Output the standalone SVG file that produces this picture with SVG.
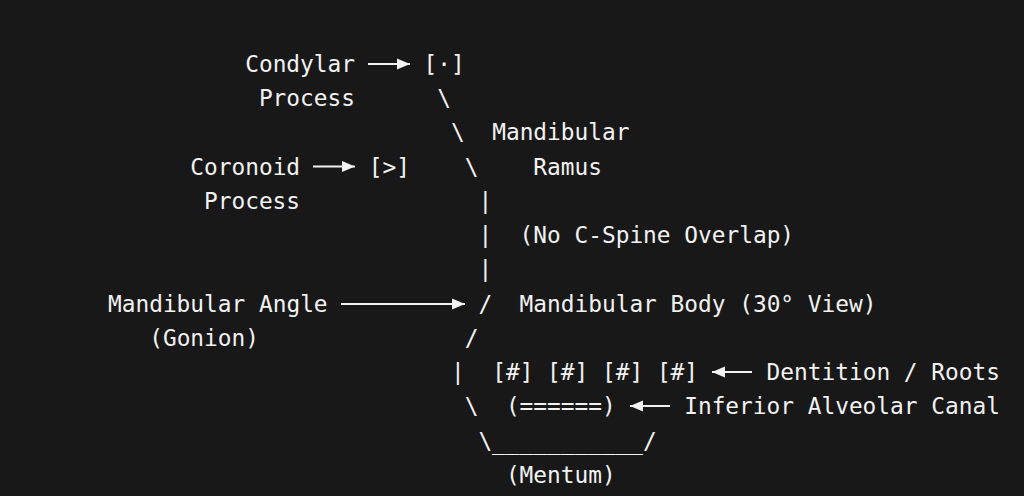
<svg xmlns="http://www.w3.org/2000/svg" width="1024" height="496" viewBox="0 0 1024 496">
<defs>
<style>
text{font-family:"DejaVu Sans Mono","Liberation Mono",monospace;font-size:22.8px;fill:#f2f2f2;white-space:pre}
.c{stroke:#f2f2f2;stroke-width:2;fill:none}
</style>
<marker id="ah" markerUnits="userSpaceOnUse" markerWidth="14" markerHeight="12" refX="13" refY="6" orient="auto">
<path d="M0,0.5 L13,6 L0,11.5 Z" fill="#f2f2f2"/>
</marker>
</defs>
<rect width="1024" height="496" fill="#181818"/>
<g id="condylar-process"><text x="245.2" y="72">Condylar</text><text x="258.9" y="106">Process</text></g>
<g id="condyle"><text x="423.6" y="72">[·]</text></g>
<g id="coronoid-process"><text x="190.3" y="174.5">Coronoid</text><text x="204" y="209">Process</text></g>
<g id="coronoid"><text x="368.7" y="174.5">[&gt;]</text></g>
<g id="ramus-label"><text x="492.2" y="140">Mandibular</text><text x="533.3" y="174.5">Ramus</text></g>
<g id="c-spine-note"><text x="519.6" y="243">(No C-Spine Overlap)</text></g>
<g id="angle-label"><text x="108" y="311.5">Mandibular Angle</text><text x="149.2" y="346">(Gonion)</text></g>
<g id="body-label"><text x="519.6" y="311.5">Mandibular Body (30° View)</text></g>
<g id="dentition"><text x="492.2" y="380">[#] [#] [#] [#]</text></g>
<g id="dentition-label"><text x="766.6" y="380">Dentition / Roots</text></g>
<g id="canal"><text x="505.9" y="414">(======)</text></g>
<g id="canal-label"><text x="684.2" y="414">Inferior Alveolar Canal</text></g>
<g id="mentum"><text x="505.9" y="483">(Mentum)</text></g>
<g id="mandible-outline">
<text x="437.3" y="106">\</text>
<text x="451" y="140">\</text>
<text x="464.7" y="174.5">\</text>
<text x="478.4" y="209">|</text>
<text x="478.4" y="243">|</text>
<text x="478.4" y="277">|</text>
<text x="478.4" y="311.5">/</text>
<text x="464.7" y="346">/</text>
<text x="451" y="380">|</text>
<text x="464.7" y="414">\</text>
<text x="478.4" y="448.5">\___________/</text>
</g>
<g id="connectors">
<line class="c" x1="368" y1="64" x2="410" y2="64" marker-end="url(#ah)"/>
<line class="c" x1="313" y1="166.5" x2="355" y2="166.5" marker-end="url(#ah)"/>
<line class="c" x1="341" y1="304" x2="465" y2="304" marker-end="url(#ah)"/>
<line class="c" x1="752" y1="372" x2="712" y2="372" marker-end="url(#ah)"/>
<line class="c" x1="670" y1="406" x2="630" y2="406" marker-end="url(#ah)"/>
</g>
</svg>
